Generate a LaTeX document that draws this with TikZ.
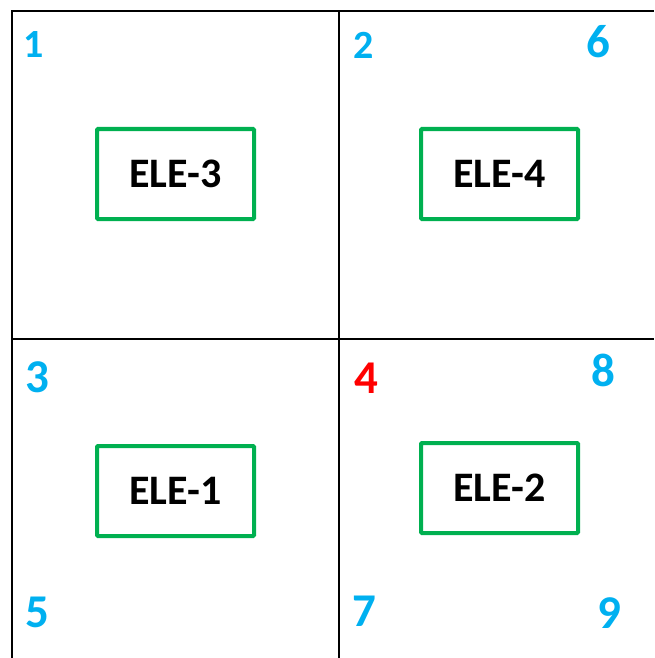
\documentclass[tikz,border=0pt]{standalone}
\usepackage{fontspec}
\setmainfont{Carlito}
\definecolor{boxgreen}{HTML}{00B050}
\definecolor{numcyan}{HTML}{00B0F0}
\definecolor{numred}{HTML}{FF0000}
\begin{document}
\begin{tikzpicture}[x=1pt,y=-1pt,
  elebox/.style={draw=boxgreen,line width=4pt,rounded corners=1pt,minimum width=157pt,minimum height=90pt,inner sep=0pt,font=\fontsize{42}{44}\selectfont\bfseries},
  numsmall/.style={text=numcyan,inner sep=0pt,font=\fontsize{40}{42}\selectfont\bfseries},
  numbig/.style={text=numcyan,inner sep=0pt,font=\fontsize{47}{49}\selectfont\bfseries},
  gridline/.style={line width=2pt,black}]
\useasboundingbox (0,0) rectangle (654,658);
\coordinate (tl) at (12,11.5);
\coordinate (tr) at (654,11.5);
\coordinate (bl) at (12,658);
\coordinate (vt) at (339,11.5);
\coordinate (vb) at (339,658);
\coordinate (hl) at (12,338.5);
\coordinate (hr) at (654,338.5);
\draw[gridline] (bl) -- (tl) -- (tr);
\draw[gridline] (vt) -- (vb);
\draw[gridline] (hl) -- (hr);
\node[elebox] (e3) at (175.5,174) {ELE-3};
\node[elebox] (e4) at (499.5,174) {ELE-4};
\node[elebox] (e1) at (175.5,491) {ELE-1};
\node[elebox] (e2) at (499.5,488) {ELE-2};
\node[numsmall] (n1) at (34,45) {1};
\node[numsmall] (n2) at (364,45) {2};
\node[numbig] (n6) at (598,42) {6};
\node[numbig] (n3) at (37,377) {3};
\node[numbig,text=numred] (n4) at (366,378) {4};
\node[numbig] (n8) at (603,370) {8};
\node[numbig] (n5) at (37,612) {5};
\node[numbig] (n7) at (364,611) {7};
\node[numbig] (n9) at (609,613) {9};
\end{tikzpicture}
\end{document}
